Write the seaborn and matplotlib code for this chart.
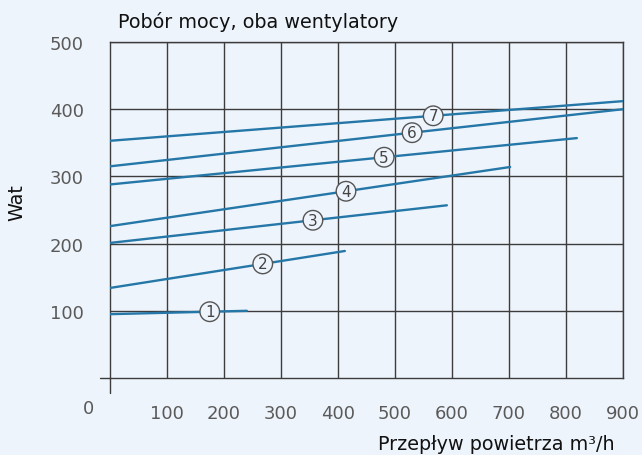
import matplotlib.pyplot as plt
import seaborn as sns
import pandas as pd
import numpy as np

# curves 1..7: start / end of each straight characteristic
curves = ['1', '2', '3', '4', '5', '6', '7']
flow_start = [0, 0, 0, 0, 0, 0, 0]
flow_end = [240, 412, 591, 702, 819, 900, 900]
power_start = [95, 134, 201, 226, 288, 315, 353]
power_end = [100, 189, 257, 314, 357, 400, 412]
label_flow = [175, 268, 356, 414, 481, 530, 567]

x_ticks = [100, 200, 300, 400, 500, 600, 700, 800, 900]
y_ticks = [100, 200, 300, 400, 500]

bg = '#eef4fc'
line_col = '#2577a8'
grid_col = '#3c3c3c'
tick_col = '#5a5a5a'

rows = []
for c, x0, x1, y0, y1 in zip(curves, flow_start, flow_end, power_start, power_end):
    rows.append({'curve': c, 'flow': x0, 'power': y0})
    rows.append({'curve': c, 'flow': x1, 'power': y1})
df = pd.DataFrame(rows)

sns.set_theme(style='white')
plt.rcParams['font.family'] = ['DejaVu Sans']

fig = plt.figure(figsize=(6.42, 4.56), dpi=100, facecolor=bg)
ax = fig.add_axes([110/642, 1-379/456, 513/642, 336/456])
ax.set_facecolor(bg)

sns.lineplot(data=df, x='flow', y='power', units='curve', estimator=None,
             color=line_col, lw=1.7, ax=ax, legend=False, zorder=3)

ax.set_xlim(0, 900)
ax.set_ylim(0, 500)
ax.set_xticks(x_ticks)
ax.set_yticks(y_ticks)
ax.grid(True, color=grid_col, lw=1.0)
ax.tick_params(axis='both', length=0, colors=tick_col, labelsize=13)
ax.tick_params(axis='x', pad=19)
ax.tick_params(axis='y', pad=19)
for s in ax.spines.values():
    s.set_color(grid_col)
    s.set_linewidth(1.0)
ax.set_xlabel('')
ax.set_ylabel('')

# axis cross at origin
ax.plot([-18, 0], [0, 0], color=grid_col, lw=1.0, clip_on=False)
ax.plot([0, 0], [-22, 0], color=grid_col, lw=1.0, clip_on=False)
ax.text(-37, -45, '0', ha='center', va='center', color=tick_col, fontsize=13)

# circled curve numbers
for c, lx, x0, x1, y0, y1 in zip(curves, label_flow, flow_start, flow_end, power_start, power_end):
    ly = np.interp(lx, [x0, x1], [y0, y1])
    ax.text(lx, ly, c, ha='center', va='center', fontsize=11, color='#444444', zorder=5,
            bbox=dict(boxstyle='circle,pad=0.15', fc=bg, ec='#555555', lw=1.0))

fig.text(118/642, 1-22/456, 'Pobór mocy, oba wentylatory', ha='left', va='center',
         fontsize=13.8, color='#111111')
fig.text(17/642, 1-203/456, 'Wat', rotation=90, ha='center', va='center',
         fontsize=13.8, color='#111111')
fig.text(615/642, 1-445/456, 'Przepływ powietrza m³/h', ha='right', va='center',
         fontsize=13.8, color='#111111')

fig.savefig('out.png', dpi=100, facecolor=bg)
